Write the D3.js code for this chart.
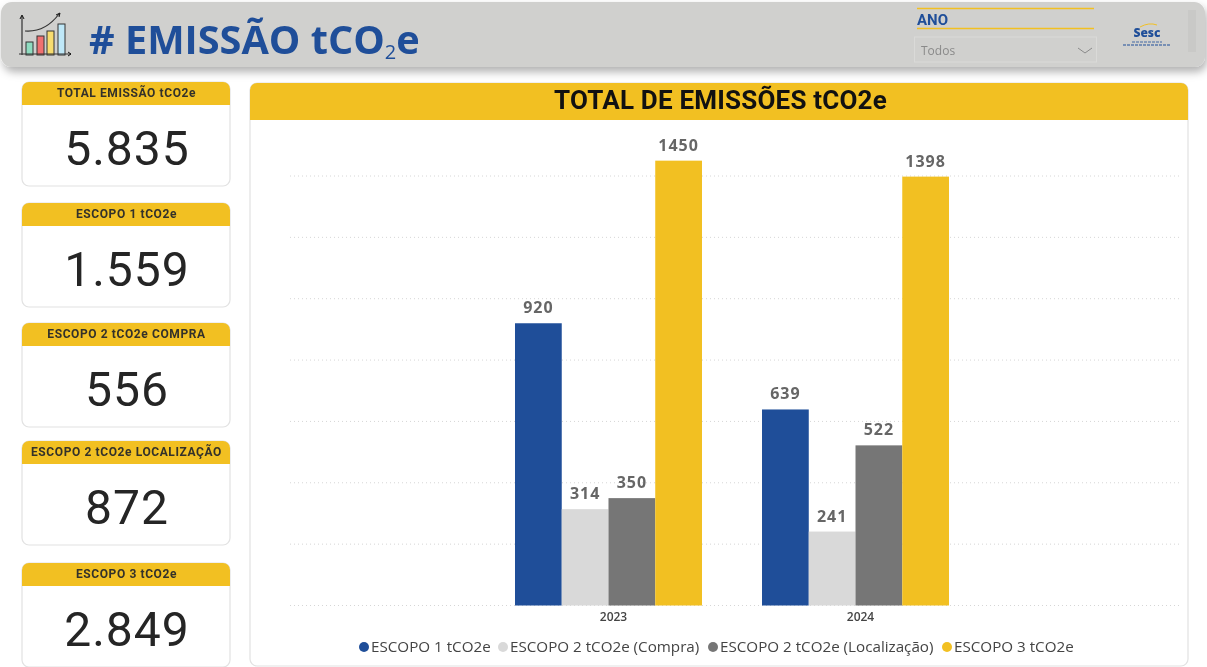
<!DOCTYPE html>
<html lang="pt">
<head>
<meta charset="utf-8">
<title># EMISSÃO tCO2e</title>
<script src="https://cdn.jsdelivr.net/npm/d3@7"></script>
<style>
  html, body { margin: 0; padding: 0; background: #fff; overflow: hidden; }
  svg { display: block; filter: blur(0.35px); }
  .din { font-family: Roboto, sans-serif; }
  .seg { font-family: "Open Sans", sans-serif; }
</style>
</head>
<body>
<div id="chart"></div>
<script>
// Dados do gráfico
const years = ['2023', '2024'];
const seriesNames = ['ESCOPO 1 tCO2e', 'ESCOPO 2 tCO2e (Compra)', 'ESCOPO 2 tCO2e (Localização)', 'ESCOPO 3 tCO2e'];
const seriesColors = ['#1f4e99', '#d9d9d9', '#767676', '#f2c022'];
const values2023 = [920, 314, 350, 1450];
const values2024 = [639, 241, 522, 1398];
const gridTicks = [0, 200, 400, 600, 800, 1000, 1200, 1400];

const cardTitles = ['TOTAL EMISSÃO tCO2e', 'ESCOPO 1 tCO2e', 'ESCOPO 2 tCO2e COMPRA', 'ESCOPO 2 tCO2e LOCALIZAÇÃO', 'ESCOPO 3 tCO2e'];
const cardValues = ['5.835', '1.559', '556', '872', '2.849'];
const cardTops = [82, 203, 323, 441, 563];

const width = 1207;
const height = 667;
const yellow = '#f2c022';
const blue = '#1f4e99';

const svg = d3.select('#chart')
    .append('svg')
    .attr('width', width)
    .attr('height', height);

const defs = svg.append('defs');
const shadow = defs.append('filter').attr('id', 'shadow')
    .attr('x', '-2%').attr('y', '-20%').attr('width', '104%').attr('height', '160%');
shadow.append('feDropShadow')
    .attr('dx', 2).attr('dy', 5).attr('stdDeviation', 4)
    .attr('flood-color', '#000').attr('flood-opacity', 0.3);

// Barra superior
const header = svg.append('g');
header.append('rect')
    .attr('x', 1).attr('y', 2).attr('width', 1204).attr('height', 65).attr('rx', 11)
    .attr('fill', '#d0d0ce')
    .attr('filter', 'url(#shadow)');

const title = header.append('text')
    .attr('class', 'seg')
    .attr('x', 89).attr('y', 54)
    .attr('font-size', 39.7).attr('font-weight', 700).attr('fill', blue);
title.append('tspan').text('# EMISSÃO tCO');
title.append('tspan').attr('font-size', 20).attr('font-weight', 400).attr('dy', 5).text('2');
title.append('tspan').attr('dy', -5).text('e');

// Ícone do título
const icon = header.append('g').attr('fill', 'none').attr('stroke', '#333').attr('stroke-width', 1);
[[26, 42, 13, '#8fdcc0'], [37, 36, 19, '#f07070'], [47, 31, 24, '#f7dc6f'], [58, 24, 31, '#bfe8f8']].forEach(b => {
    icon.append('rect').attr('x', b[0]).attr('y', b[1]).attr('width', 7).attr('height', b[2]).attr('fill', b[3]);
});
icon.append('path').attr('d', 'M22 16V55M19 54H71M25 31C38 32 50 26 59 14').attr('stroke-width', 1.2);
icon.append('path').attr('d', 'M20 19L22 15L24 19M68 52L71 54L68 56M56 15L60 13L59 17').attr('stroke', '#111');

// Filtro de ano
header.append('line').attr('x1', 917).attr('x2', 1094).attr('y1', 8.5).attr('y2', 8.5).attr('stroke', yellow).attr('stroke-width', 1.6);
header.append('line').attr('x1', 917).attr('x2', 1094).attr('y1', 28.5).attr('y2', 28.5).attr('stroke', yellow).attr('stroke-width', 1.6);
header.append('text').attr('class', 'din')
    .attr('x', 917).attr('y', 25)
    .attr('font-size', 15).attr('font-weight', 700).attr('fill', blue)
    .text('ANO');
header.append('rect')
    .attr('x', 914.5).attr('y', 37).attr('width', 182).attr('height', 25)
    .attr('fill', 'none').attr('stroke', '#dadad8');
header.append('text').attr('class', 'seg')
    .attr('x', 921).attr('y', 55)
    .attr('font-size', 12).attr('fill', '#8a8a8a')
    .text('Todos');
header.append('path').attr('d', 'M1078 48L1085 53L1092 48').attr('fill', 'none').attr('stroke', '#8a8a8a');

// Logo Sesc
header.append('text').attr('class', 'seg')
    .attr('x', 1147).attr('y', 37).attr('text-anchor', 'middle')
    .attr('font-size', 12).attr('font-weight', 800).attr('fill', blue)
    .text('Sesc');
header.append('path').attr('d', 'M1140 27Q1149 22 1157 25').attr('fill', 'none').attr('stroke', yellow).attr('stroke-width', 1);
header.append('line').attr('x1', 1132).attr('x2', 1162).attr('y1', 42).attr('y2', 42)
    .attr('stroke', blue).attr('stroke-width', 0.8).attr('stroke-dasharray', '3 1');
header.append('line').attr('x1', 1123).attr('x2', 1170).attr('y1', 45).attr('y2', 45)
    .attr('stroke', blue).attr('stroke-width', 1.2).attr('stroke-dasharray', '3 1');
header.append('rect').attr('x', 1188).attr('y', 10).attr('width', 8).attr('height', 42).attr('fill', '#c9c9c7');

// Cartões
const cards = svg.selectAll('g.card')
    .data(cardTitles)
    .join('g')
    .attr('class', 'card')
    .attr('transform', (d, i) => `translate(22,${cardTops[i]})`);

cards.append('rect')
    .attr('x', 0).attr('y', 0).attr('width', 208).attr('height', 104).attr('rx', 7)
    .attr('fill', '#fff').attr('stroke', '#e2e2e2').attr('stroke-width', 1.2);
cards.append('path')
    .attr('d', 'M0 23V7A7 7 0 0 1 7 0H201A7 7 0 0 1 208 7V23Z')
    .attr('fill', yellow);
cards.append('text')
    .attr('class', 'din')
    .attr('x', 104.5).attr('y', 15)
    .attr('text-anchor', 'middle')
    .attr('font-size', 12).attr('font-weight', 700).attr('letter-spacing', 0.6).attr('fill', '#33312a')
    .text(d => d);
cards.append('text')
    .attr('class', 'din')
    .attr('x', 105).attr('y', 83)
    .attr('text-anchor', 'middle')
    .attr('font-size', 48).attr('letter-spacing', 1).attr('fill', '#252525')
    .text((d, i) => cardValues[i]);

// Painel do gráfico
svg.append('rect')
    .attr('x', 250).attr('y', 83).attr('width', 938).attr('height', 583).attr('rx', 7)
    .attr('fill', '#fff').attr('stroke', '#e2e2e2').attr('stroke-width', 1.2);
svg.append('path')
    .attr('d', 'M250 120V90A7 7 0 0 1 257 83H1181A7 7 0 0 1 1188 90V120Z')
    .attr('fill', yellow);
svg.append('text')
    .attr('class', 'din')
    .attr('x', 720.5).attr('y', 109)
    .attr('text-anchor', 'middle')
    .attr('font-size', 26).attr('font-weight', 700).attr('letter-spacing', 0.2).attr('fill', '#111')
    .text('TOTAL DE EMISSÕES tCO2e');

// Escalas
const y = d3.scaleLinear().domain([0, 1400]).range([605.5, 176]);
const x0 = d3.scaleBand().domain(years).range([287, 1177]).paddingInner(0.243).paddingOuter(0.923);
const x1 = d3.scaleBand().domain(seriesNames).range([0, x0.bandwidth()]);

// Grade
svg.append('g')
    .selectAll('line')
    .data(gridTicks)
    .join('line')
    .attr('x1', 290).attr('x2', 1180)
    .attr('y1', d => y(d)).attr('y2', d => y(d))
    .attr('stroke', '#d6d6d6').attr('stroke-dasharray', '1 3');

// Barras
const groups = svg.selectAll('g.year')
    .data([values2023, values2024])
    .join('g')
    .attr('class', 'year')
    .attr('transform', (d, i) => `translate(${x0(years[i])},0)`);

groups.selectAll('rect')
    .data(d => d)
    .join('rect')
    .attr('x', (d, i) => x1(seriesNames[i]))
    .attr('y', d => y(d))
    .attr('width', x1.bandwidth())
    .attr('height', d => y(0) - y(d))
    .attr('fill', (d, i) => seriesColors[i]);

groups.selectAll('text')
    .data(d => d)
    .join('text')
    .attr('class', 'seg')
    .attr('x', (d, i) => x1(seriesNames[i]) + x1.bandwidth() / 2)
    .attr('y', d => y(d) - 10)
    .attr('text-anchor', 'middle')
    .attr('font-size', 16).attr('font-weight', 700).attr('letter-spacing', 1).attr('fill', '#666')
    .text(d => d);

// Eixo x
const xAxis = svg.append('g')
    .attr('transform', `translate(5,${y(0)})`)
    .call(d3.axisBottom(x0).tickSize(0).tickPadding(7));
xAxis.select('.domain').remove();
xAxis.selectAll('text')
    .attr('font-family', '"Open Sans", sans-serif')
    .attr('font-size', 12).attr('font-weight', 600).attr('fill', '#444');

// Legenda
const legendStart = [358, 497, 707, 941];
const legend = svg.selectAll('g.legend')
    .data(seriesNames)
    .join('g')
    .attr('class', 'legend')
    .attr('transform', (d, i) => `translate(${legendStart[i]},647)`);
legend.append('circle').attr('cx', 6).attr('cy', 0).attr('r', 5).attr('fill', (d, i) => seriesColors[i]);
legend.append('text')
    .attr('class', 'seg')
    .attr('x', 13).attr('y', 5)
    .attr('font-size', 15.2).attr('font-weight', 500).attr('fill', '#444')
    .text(d => d);
</script>
</body>
</html>
